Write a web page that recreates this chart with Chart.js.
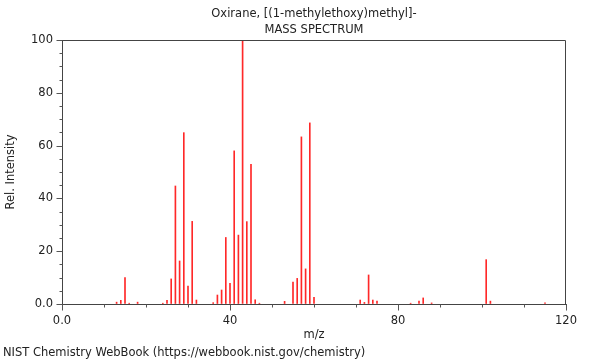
<!DOCTYPE html>
<html>
<head>
<meta charset="utf-8">
<script src="https://cdn.jsdelivr.net/npm/chart.js@4"></script>
<style>
  html, body { margin: 0; padding: 0; background: #fff; }
  #wrap { width: 600px; height: 360px; }
</style>
</head>
<body>
<div id="wrap"><canvas id="myChart" width="600" height="360"></canvas></div>
<script>
// m/z values and relative intensities
const mz = [13, 14, 15, 16, 18, 24, 25, 26, 27, 28, 29, 30, 31, 32, 36, 37, 38, 39, 40, 41, 42, 43, 44, 45, 46, 47,
  53, 55, 56, 57, 58, 59, 60, 71, 72, 73, 74, 75, 83, 85, 86, 88, 101, 102, 115];
const intensity = [0.7, 1.4, 10, 0.3, 0.7, 0.3, 1.4, 9.5, 44.7, 16.3, 64.9, 6.8, 31.3, 1.5, 0.5, 3.4, 5.3, 25.2, 7.8, 58, 26.1, 100, 31.2, 52.9, 1.6, 0.3,
  1, 8.3, 9.7, 63.3, 13.3, 68.6, 2.5, 1.5, 0.6, 11, 1.5, 1.1, 0.3, 1.1, 2.3, 0.4, 16.8, 1.1, 0.4];

const titleLines = ['Oxirane, [(1-methylethoxy)methyl]-', 'MASS SPECTRUM'];
const footerText = 'NIST Chemistry WebBook (https://webbook.nist.gov/chemistry)';
const xTickLabels = [0, 40, 80, 120];
const yTickLabels = [0, 20, 40, 60, 80, 100];

const FONT = '"DejaVu Sans", sans-serif';
const FSIZE = 11.5;
const TEXT = '#222';

const points = mz.map((m, i) => ({ x: m, y: intensity[i] }));

// frame, minor/major tick marks, title and footer
const decorations = {
  id: 'decorations',
  afterDraw(chart) {
    const ctx = chart.ctx;
    const a = chart.chartArea;
    const xs = chart.scales.x;
    const ys = chart.scales.y;
    ctx.save();

    // box round the plot
    ctx.strokeStyle = '#444';
    ctx.lineWidth = 1;
    ctx.beginPath();
    ctx.moveTo(Math.round(a.left) + 0.5, Math.round(a.top) + 0.5);
    ctx.lineTo(Math.round(a.right) - 0.5, Math.round(a.top) + 0.5);
    ctx.lineTo(Math.round(a.right) - 0.5, Math.round(a.bottom) + 0.5);
    ctx.stroke();

    // tick marks
    ctx.strokeStyle = '#555';
    ctx.beginPath();
    for (let v = 0; v <= 120; v += 10) {
      const px = Math.round(xs.getPixelForValue(v)) + 0.5;
      const len = v % 40 === 0 ? 6 : 3;
      ctx.moveTo(px, Math.round(a.bottom) + 0.5);
      ctx.lineTo(px, Math.round(a.bottom) + 0.5 + len);
    }
    for (let v = 0; v <= 100; v += 5) {
      const py = Math.round(ys.getPixelForValue(v)) + 0.5;
      const len = v % 20 === 0 ? 6 : 3;
      ctx.moveTo(Math.round(a.left) + 0.5, py);
      ctx.lineTo(Math.round(a.left) + 0.5 - len, py);
    }
    ctx.stroke();

    // title, centred on the plot area
    ctx.fillStyle = TEXT;
    ctx.font = FSIZE + 'px ' + FONT;
    ctx.textAlign = 'center';
    ctx.textBaseline = 'middle';
    const cx = (a.left + a.right) / 2;
    ctx.fillText(titleLines[0], cx, 14);
    ctx.fillText(titleLines[1], cx, 30);

    // footer
    ctx.textAlign = 'left';
    ctx.fillText(footerText, 3, 353);
    ctx.restore();
  }
};

const ctx = document.getElementById('myChart').getContext('2d');
new Chart(ctx, {
  type: 'bar',
  data: {
    datasets: [{
      data: points,
      backgroundColor: 'rgb(255, 40, 40)',
      borderWidth: 0,
      barThickness: 1,
    }]
  },
  options: {
    responsive: false,
    animation: false,
    layout: { padding: { top: 40, right: 34, left: 0, bottom: 14 } },
    plugins: {
      legend: { display: false },
      tooltip: { enabled: false },
    },
    scales: {
      x: {
        type: 'linear',
        min: 0,
        max: 120,
        offset: false,
        afterFit: (s) => { s.height = 42; },
        afterBuildTicks: (s) => { s.ticks = xTickLabels.map(v => ({ value: v })); },
        grid: { display: true, drawOnChartArea: false, drawTicks: false, offset: false },
        border: { display: true, color: '#444', width: 1 },
        ticks: {
          padding: 10,
          maxRotation: 0,
          autoSkip: false,
          color: TEXT,
          font: { family: FONT, size: FSIZE },
          callback: (v) => v === 0 ? '0.0' : String(v),
        },
        title: {
          display: true,
          text: 'm/z',
          color: TEXT,
          font: { family: FONT, size: FSIZE },
          padding: { top: 0, bottom: 4 },
        },
      },
      y: {
        min: 0,
        max: 100,
        afterFit: (s) => { s.width = 62; },
        afterBuildTicks: (s) => { s.ticks = yTickLabels.map(v => ({ value: v })); },
        grid: { display: true, drawOnChartArea: false, drawTicks: false },
        border: { display: true, color: '#444', width: 1 },
        ticks: {
          padding: 9,
          color: TEXT,
          font: { family: FONT, size: FSIZE },
          callback: (v) => v === 0 ? '0.0' : String(v),
        },
        title: {
          display: true,
          text: 'Rel. Intensity',
          color: TEXT,
          font: { family: FONT, size: FSIZE },
          padding: { top: 4, bottom: 0 },
        },
      },
    },
  },
  plugins: [decorations],
});
</script>
</body>
</html>
